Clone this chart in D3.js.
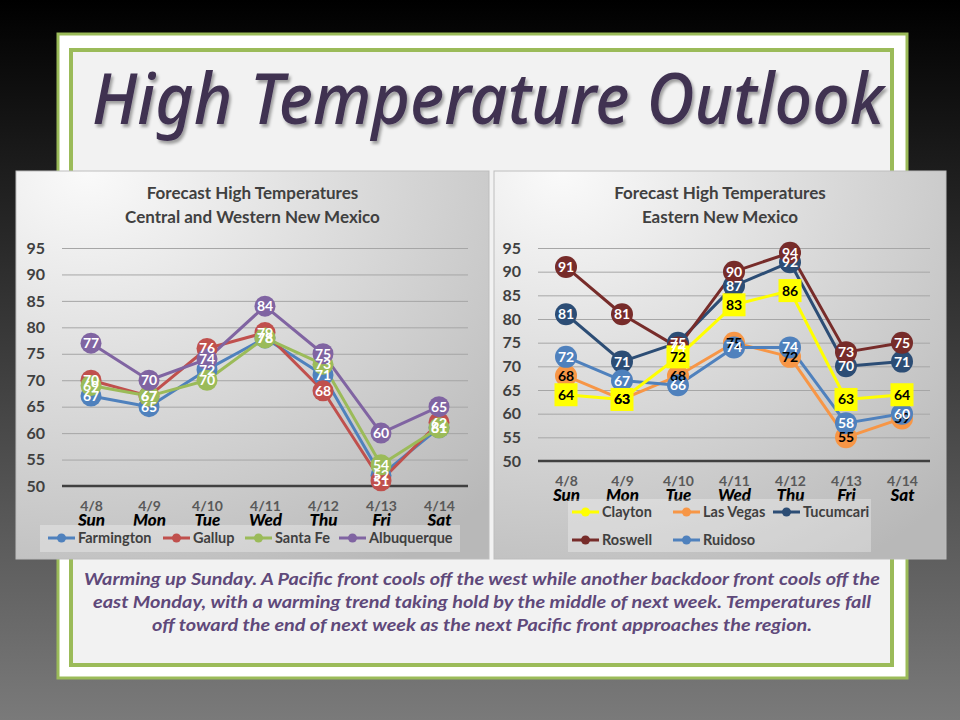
<!DOCTYPE html>
<html>
<head>
<meta charset="utf-8">
<script src="https://cdn.jsdelivr.net/npm/d3@7"></script>
<style>
  html, body { margin: 0; padding: 0; background: #000; }
  svg { display: block; }
</style>
</head>
<body>
<script>
// ---- data ----
const dates = ['4/8', '4/9', '4/10', '4/11', '4/12', '4/13', '4/14'];
const days = ['Sun', 'Mon', 'Tue', 'Wed', 'Thu', 'Fri', 'Sat'];
const yTicks = [50, 55, 60, 65, 70, 75, 80, 85, 90, 95];

const westNames = ['Farmington', 'Gallup', 'Santa Fe', 'Albuquerque'];
const farmington = [67, 65, 72, 78, 71, 52, 61];
const gallup = [70, 67, 76, 79, 68, 51, 62];
const santaFe = [69, 67, 70, 78, 73, 54, 61];
const albuquerque = [77, 70, 74, 84, 75, 60, 65];

const eastNames = ['Clayton', 'Las Vegas', 'Tucumcari', 'Roswell', 'Ruidoso'];
const clayton = [64, 63, 72, 83, 86, 63, 64];
const lasVegas = [68, 63, 68, 75, 72, 55, 59];
const tucumcari = [81, 71, 75, 87, 92, 70, 71];
const roswell = [91, 81, 74, 90, 94, 73, 75];
const ruidoso = [72, 67, 66, 74, 74, 58, 60];

const caption = [
  'Warming up Sunday. A Pacific front cools off the west while another backdoor front cools off the',
  'east Monday, with a warming trend taking hold by the middle of next week. Temperatures fall',
  'off toward the end of next week as the next Pacific front approaches the region.'
];

const W = 960, H = 720;
const font = 'Lato, "Open Sans", sans-serif';

const svg = d3.select('body').append('svg')
  .attr('width', W)
  .attr('height', H);

const defs = svg.append('defs');

const bg = defs.append('linearGradient').attr('id', 'bg')
  .attr('x1', 0).attr('y1', 0).attr('x2', 0).attr('y2', 1);
bg.append('stop').attr('offset', '0%').attr('stop-color', '#000');
bg.append('stop').attr('offset', '100%').attr('stop-color', '#7a7a7a');

const panelGrad = defs.append('radialGradient').attr('id', 'panel')
  .attr('cx', '15%').attr('cy', '0%').attr('r', '120%');
panelGrad.append('stop').attr('offset', '0%').attr('stop-color', '#fafafa');
panelGrad.append('stop').attr('offset', '100%').attr('stop-color', '#b8b8b8');

const shadow = defs.append('filter').attr('id', 'shadow')
  .attr('x', '-5%').attr('y', '-5%').attr('width', '110%').attr('height', '120%');
shadow.append('feDropShadow').attr('dx', 2).attr('dy', 3)
  .attr('stdDeviation', 1.5).attr('flood-color', '#000').attr('flood-opacity', 0.35);

svg.append('rect').attr('width', W).attr('height', H).attr('fill', 'url(#bg)');

// slide frame
svg.append('rect')
  .attr('x', 58).attr('y', 34).attr('width', 849).attr('height', 644)
  .attr('fill', '#fff').attr('stroke', '#9bbb59').attr('stroke-width', 3);
svg.append('rect')
  .attr('x', 71).attr('y', 50).attr('width', 821).attr('height', 615)
  .attr('fill', '#f2f2f2').attr('stroke', '#9bbb59').attr('stroke-width', 4);

svg.append('text')
  .attr('x', 92).attr('y', 124)
  .attr('textLength', 792).attr('lengthAdjust', 'spacingAndGlyphs')
  .attr('font-family', '"Noto Sans", sans-serif')
  .attr('font-style', 'italic')
  .attr('font-weight', 500)
  .attr('font-size', 70)
  .attr('fill', '#3f3151')
  .attr('filter', 'url(#shadow)')
  .text('High Temperature Outlook');

// caption
svg.append('g').selectAll('text')
  .data(caption)
  .join('text')
  .attr('x', 482)
  .attr('y', (d, i) => 585 + i * 23)
  .attr('text-anchor', 'middle')
  .attr('textLength', (d, i) => [796, 778, 660][i])
  .attr('lengthAdjust', 'spacingAndGlyphs')
  .attr('font-family', font)
  .attr('font-style', 'italic')
  .attr('font-weight', 700)
  .attr('font-size', 17)
  .attr('fill', '#5f497a')
  .text(d => d);

function drawChart(opts) {
  const g = svg.append('g');

  g.append('rect')
    .attr('x', opts.box[0]).attr('y', opts.box[1])
    .attr('width', opts.box[2]).attr('height', opts.box[3])
    .attr('fill', 'url(#panel)')
    .attr('stroke', '#bdbdbd').attr('stroke-width', 1);

  g.append('g').selectAll('text')
    .data(opts.title)
    .join('text')
    .attr('x', opts.box[0] + opts.box[2] / 2)
    .attr('y', (d, i) => 199 + i * 24)
    .attr('text-anchor', 'middle')
    .attr('font-family', font)
    .attr('font-weight', 700)
    .attr('font-size', 17)
    .attr('fill', '#404040')
    .text(d => d);

  const x = d3.scalePoint()
    .domain(dates)
    .range(opts.xRange)
    .padding(0.5);

  const y = d3.scaleLinear()
    .domain([50, 95])
    .range(opts.yRange);

  // gridlines
  g.append('g')
    .attr('transform', `translate(${opts.xRange[0]},0)`)
    .call(d3.axisLeft(y).tickValues(yTicks.slice(1))
      .tickSize(-(opts.xRange[1] - opts.xRange[0])).tickFormat(''))
    .call(a => a.select('.domain').remove())
    .call(a => a.selectAll('line').attr('stroke', '#a6a6a6').attr('stroke-width', 1));

  // y labels
  g.append('g')
    .attr('transform', `translate(${opts.yLabelX},0)`)
    .call(d3.axisLeft(y).tickValues(yTicks).tickSize(0).tickPadding(0))
    .call(a => a.select('.domain').remove())
    .call(a => a.selectAll('text')
      .attr('font-family', font).attr('font-weight', 700)
      .attr('font-size', 16).attr('fill', '#404040'));

  // x axis
  const xa = g.append('g')
    .attr('transform', `translate(0,${opts.yRange[0]})`)
    .call(d3.axisBottom(x).tickSize(0).tickPadding(opts.datePad))
    .call(a => a.select('.domain')
      .attr('d', `M${opts.xRange[0]},0H${opts.xRange[1]}`)
      .attr('stroke', '#404040').attr('stroke-width', 2.5));
  xa.selectAll('text')
    .attr('font-family', font).attr('font-weight', 700)
    .attr('font-size', 14).attr('fill', '#595959');
  xa.selectAll('.tick').append('text')
    .attr('y', opts.datePad + 25)
    .attr('text-anchor', 'middle')
    .attr('font-family', font).attr('font-weight', 900)
    .attr('font-style', 'italic')
    .attr('font-size', 17).attr('fill', '#000')
    .text((d, i) => days[i]);

  const line = d3.line()
    .x((d, i) => x(dates[i]))
    .y(d => y(d));

  const order = opts.drawOrder.map(i => opts.series[i]);

  order.forEach(s => {
    g.append('path')
      .attr('d', line(s.values))
      .attr('fill', 'none')
      .attr('stroke', s.color)
      .attr('stroke-width', 3)
      .attr('stroke-linejoin', 'round');
  });

  order.forEach(s => {
    const m = g.append('g').selectAll('.m')
      .data(s.values)
      .join(s.square ? 'rect' : 'circle');
    if (s.square) {
      m.attr('x', (d, i) => x(dates[i]) - 11.5)
        .attr('y', d => y(d) - 11.5)
        .attr('width', 23).attr('height', 23)
        .attr('fill', s.color);
    } else {
      m.attr('cx', (d, i) => x(dates[i]))
        .attr('cy', d => y(d))
        .attr('r', opts.r)
        .attr('fill', s.color);
    }
  });

  order.forEach(s => {
    g.append('g').selectAll('text')
      .data(s.values)
      .join('text')
      .attr('x', (d, i) => x(dates[i]))
      .attr('y', d => y(d) + 5)
      .attr('text-anchor', 'middle')
      .attr('font-family', font).attr('font-weight', 700)
      .attr('font-size', 14)
      .attr('fill', s.labelColor)
      .text(d => d);
  });

  // legend
  g.append('rect')
    .attr('x', opts.legendBox[0]).attr('y', opts.legendBox[1])
    .attr('width', opts.legendBox[2]).attr('height', opts.legendBox[3])
    .attr('fill', '#ffffff').attr('fill-opacity', 0.3);

  const li = g.append('g').selectAll('g')
    .data(opts.series)
    .join('g')
    .attr('transform', (d, i) => `translate(${opts.legendPos[i][0]},${opts.legendPos[i][1]})`);
  li.append('line')
    .attr('x1', 0).attr('x2', 27)
    .attr('stroke', d => d.color).attr('stroke-width', 3);
  li.append('circle')
    .attr('cx', 13.5).attr('r', 4.5)
    .attr('fill', d => d.color);
  li.append('text')
    .attr('x', 30).attr('y', 5)
    .attr('font-family', font).attr('font-weight', 700)
    .attr('font-size', 14.5).attr('fill', '#404040')
    .text(d => d.name);
}

const westValues = [farmington, gallup, santaFe, albuquerque];
const westColors = ['#4f81bd', '#c0504d', '#9bbb59', '#8064a2'];

drawChart({
  box: [16, 171, 473, 388],
  title: ['Forecast High Temperatures', 'Central and Western New Mexico'],
  xRange: [62, 468],
  yRange: [486, 248],
  yLabelX: 45,
  datePad: 15,
  r: 10.5,
  series: westNames.map((name, i) => ({
    name, values: westValues[i], color: westColors[i], labelColor: '#fff'
  })),
  drawOrder: [0, 1, 2, 3],
  legendBox: [40, 525, 420, 27],
  legendPos: [[48, 538], [163, 538], [245, 538], [339, 538]]
});

const eastValues = [clayton, lasVegas, tucumcari, roswell, ruidoso];
const eastColors = ['#ffff00', '#f79646', '#2c4d75', '#772c2a', '#4f81bd'];
const eastLabels = ['#000', '#000', '#fff', '#fff', '#fff'];

drawChart({
  box: [494, 171, 452, 388],
  title: ['Forecast High Temperatures', 'Eastern New Mexico'],
  xRange: [538, 930],
  yRange: [461, 248],
  yLabelX: 521,
  datePad: 15,
  r: 11,
  series: eastNames.map((name, i) => ({
    name, values: eastValues[i], color: eastColors[i],
    labelColor: eastLabels[i], square: i === 0
  })),
  drawOrder: [1, 2, 3, 4, 0],
  legendBox: [568, 499, 303, 53],
  legendPos: [[572, 512], [673, 512], [773, 512], [572, 540], [673, 540]]
});
</script>
</body>
</html>
